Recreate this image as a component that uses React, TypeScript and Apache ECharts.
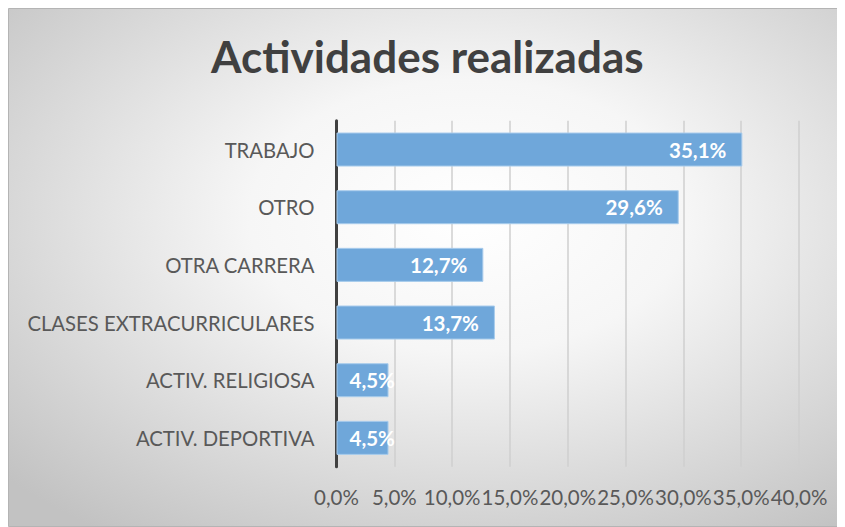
import React, { useEffect, useRef } from "react";
import * as echarts from "echarts";

const categories = [
  "TRABAJO",
  "OTRO",
  "OTRA CARRERA",
  "CLASES EXTRACURRICULARES",
  "ACTIV. RELIGIOSA",
  "ACTIV. DEPORTIVA",
];
const values = [35.1, 29.6, 12.7, 13.7, 4.5, 4.5];
const axisMin = 0;
const axisMax = 40;
const axisStep = 5;
const titleText = "Actividades realizadas";

const fmt = (v: number) => v.toFixed(1).replace(".", ",") + "%";

export default function App() {
  const ref = useRef<HTMLDivElement>(null);
  useEffect(() => {
    document.body.style.overflow = "hidden";
    const chart = echarts.init(ref.current!, null, { renderer: "svg" });
    const W = 837;
    const H = 519;
    chart.setOption({
      animation: false,
      graphic: [
        {
          type: "rect",
          z: -100,
          silent: true,
          shape: { x: 0.5, y: 0.5, width: W - 1, height: H - 1 },
          style: {
            fill: new echarts.graphic.RadialGradient(0.55, 0.4, 0.75, [
              { offset: 0, color: "#ffffff" },
              { offset: 0.35, color: "#f6f6f6" },
              { offset: 1, color: "#c2c2c2" },
            ]),
            stroke: "#b4b4b4",
            lineWidth: 1,
          },
        },
      ],
      title: {
        text: titleText,
        left: 198,
        top: 21,
        textStyle: {
          fontFamily: "Lato",
          fontWeight: "bold",
          fontSize: 44,
          color: "#404040",
        },
      },
      grid: { left: 328.5, top: 112.7, right: 46, bottom: 60.3, containLabel: false },
      xAxis: {
        type: "value",
        min: axisMin,
        max: axisMax,
        interval: axisStep,
        axisLine: { show: false },
        axisTick: { show: false },
        splitLine: { show: true, lineStyle: { color: "#cfcfcf", width: 1.5 } },
        axisLabel: {
          formatter: (v: number) => fmt(v),
          fontFamily: "Lato",
          fontSize: 20.5,
          color: "#595959",
          margin: 20,
        },
      },
      yAxis: {
        type: "category",
        inverse: true,
        data: categories,
        axisLine: { show: true, lineStyle: { color: "#404040", width: 3 } },
        axisTick: { show: false },
        axisLabel: {
          fontFamily: "Lato",
          fontSize: 20.3,
          color: "#595959",
          margin: 22,
        },
      },
      series: [
        {
          type: "bar",
          data: values.map((v) =>
            v < 8
              ? {
                  value: v,
                  label: { position: "insideLeft", distance: 13 },
                }
              : { value: v }
          ),
          barCategoryGap: "41%",
          itemStyle: { color: "#6FA7DA", borderColor: "#A8CCEC", borderWidth: 1 },
          label: {
            show: true,
            position: "insideRight",
            distance: 16,
            formatter: (p: any) => fmt(p.value),
            fontFamily: "Lato",
            fontWeight: "bold",
            fontSize: 20.5,
            color: "#ffffff",
          },
        },
      ],
    });
    return () => chart.dispose();
  }, []);
  return <div ref={ref} style={{ width: 837, height: 519 }} />;
}
